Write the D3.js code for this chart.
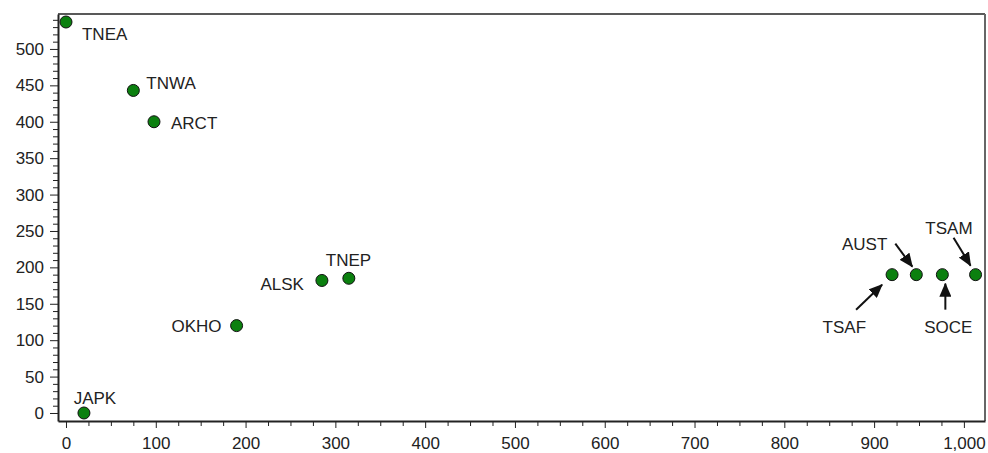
<!DOCTYPE html>
<html>
<head>
<meta charset="utf-8">
<script src="https://cdn.jsdelivr.net/npm/d3@7"></script>
<style>
  body { margin: 0; background: #fff; }
  text { font-family: "Liberation Sans", Arial, Helvetica, sans-serif; fill: #222; }
</style>
</head>
<body>
<div id="chart"></div>
<script>
// Data
const names = ["TNEA", "TNWA", "ARCT", "JAPK", "OKHO", "ALSK", "TNEP", "TSAF", "AUST", "SOCE", "TSAM"];
const xValues = [0, 75, 98, 20, 190, 285, 315, 920, 947, 976, 1013];
const yValues = [537, 443, 400, 0, 120, 182, 185, 190, 190, 190, 190];
const xTicks = [0, 100, 200, 300, 400, 500, 600, 700, 800, 900, 1000];
const yTicks = [0, 50, 100, 150, 200, 250, 300, 350, 400, 450, 500];

// Label placement (pixel offsets from the point), arrows where the reference uses them
const labelPos = {
  TNEA: { dx: 16, dy: 18, anchor: "start" },
  TNWA: { dx: 13, dy: -1, anchor: "start" },
  ARCT: { dx: 17, dy: 7, anchor: "start" },
  JAPK: { dx: 11, dy: -9, anchor: "middle" },
  OKHO: { dx: -15, dy: 6, anchor: "end" },
  ALSK: { dx: -18, dy: 10, anchor: "end" },
  TNEP: { dx: -23, dy: -12, anchor: "start" },
  TSAF: { dx: -26, dy: 58, anchor: "end", arrow: [-36, 35, -10, 10] },
  AUST: { dx: -29, dy: -25, anchor: "end", arrow: [-21, -31, -4, -8] },
  SOCE: { dx: 6, dy: 58, anchor: "middle", arrow: [3, 35, 3, 9] },
  TSAM: { dx: -3, dy: -41, anchor: "end", arrow: [-22, -37, -5, -9] }
};

const width = 988;
const height = 453;
const margin = { top: 14, right: 3, bottom: 32, left: 58 };

const svg = d3.select("#chart")
  .append("svg")
  .attr("width", width)
  .attr("height", height);

const x = d3.scaleLinear()
  .domain([-8.9, 1023.5])
  .range([margin.left, width - margin.right]);

const y = d3.scaleLinear()
  .domain([-11, 548])
  .range([height - margin.bottom, margin.top]);

const fmt = d3.format(",");

// Frame (top and right)
svg.append("line")
  .attr("x1", margin.left).attr("x2", width - margin.right)
  .attr("y1", margin.top).attr("y2", margin.top)
  .attr("stroke", "#222").attr("stroke-width", 1.5);
svg.append("line")
  .attr("x1", width - margin.right).attr("x2", width - margin.right)
  .attr("y1", margin.top).attr("y2", height - margin.bottom)
  .attr("stroke", "#666").attr("stroke-width", 2);

// Minor ticks
const yMinor = d3.range(0, 548, 10).filter(v => v % 50 !== 0);
const xMinor = d3.range(0, 1024, 25).filter(v => v % 100 !== 0);

svg.append("g")
  .attr("transform", `translate(${margin.left},0)`)
  .call(d3.axisLeft(y).tickValues(yMinor).tickSize(5).tickFormat(""))
  .call(g => g.select(".domain").remove())
  .selectAll("line").attr("stroke", "#222");

svg.append("g")
  .attr("transform", `translate(0,${height - margin.bottom})`)
  .call(d3.axisBottom(x).tickValues(xMinor).tickSize(5).tickFormat(""))
  .call(g => g.select(".domain").remove())
  .selectAll("line").attr("stroke", "#222");

// Major axes
const yAxis = svg.append("g")
  .attr("transform", `translate(${margin.left},0)`)
  .call(d3.axisLeft(y).tickValues(yTicks).tickSize(8).tickSizeOuter(0).tickPadding(6));

const xAxis = svg.append("g")
  .attr("transform", `translate(0,${height - margin.bottom})`)
  .call(d3.axisBottom(x).tickValues(xTicks).tickSize(7).tickSizeOuter(0).tickPadding(9).tickFormat(fmt));

[xAxis, yAxis].forEach(a => {
  a.select(".domain").attr("stroke", "#222").attr("stroke-width", 2);
  a.selectAll(".tick line").attr("stroke", "#222");
  a.selectAll(".tick text").attr("font-size", "17px").attr("fill", "#222");
});

// Arrow head marker
svg.append("defs").append("marker")
  .attr("id", "head")
  .attr("viewBox", "0 0 14 12")
  .attr("refX", 13).attr("refY", 6)
  .attr("markerWidth", 14).attr("markerHeight", 12)
  .attr("markerUnits", "userSpaceOnUse")
  .attr("orient", "auto")
  .append("path")
  .attr("d", "M0,0 L14,6 L0,12 z")
  .attr("fill", "#111");

const pts = names.map((n, i) => ({ name: n, x: xValues[i], y: yValues[i] }));

// Arrows
svg.append("g")
  .selectAll("line")
  .data(pts.filter(d => labelPos[d.name].arrow))
  .join("line")
  .attr("x1", d => x(d.x) + labelPos[d.name].arrow[0])
  .attr("y1", d => y(d.y) + labelPos[d.name].arrow[1])
  .attr("x2", d => x(d.x) + labelPos[d.name].arrow[2])
  .attr("y2", d => y(d.y) + labelPos[d.name].arrow[3])
  .attr("stroke", "#111")
  .attr("stroke-width", 2)
  .attr("marker-end", "url(#head)");

// Points
svg.append("g")
  .selectAll("circle")
  .data(pts)
  .join("circle")
  .attr("cx", d => x(d.x))
  .attr("cy", d => y(d.y))
  .attr("r", 6)
  .attr("fill", "#0b800f")
  .attr("stroke", "#111")
  .attr("stroke-width", 1);

// Labels
svg.append("g")
  .selectAll("text")
  .data(pts)
  .join("text")
  .attr("x", d => x(d.x) + labelPos[d.name].dx)
  .attr("y", d => y(d.y) + labelPos[d.name].dy)
  .attr("text-anchor", d => labelPos[d.name].anchor)
  .attr("font-size", "17px")
  .text(d => d.name);
</script>
</body>
</html>
